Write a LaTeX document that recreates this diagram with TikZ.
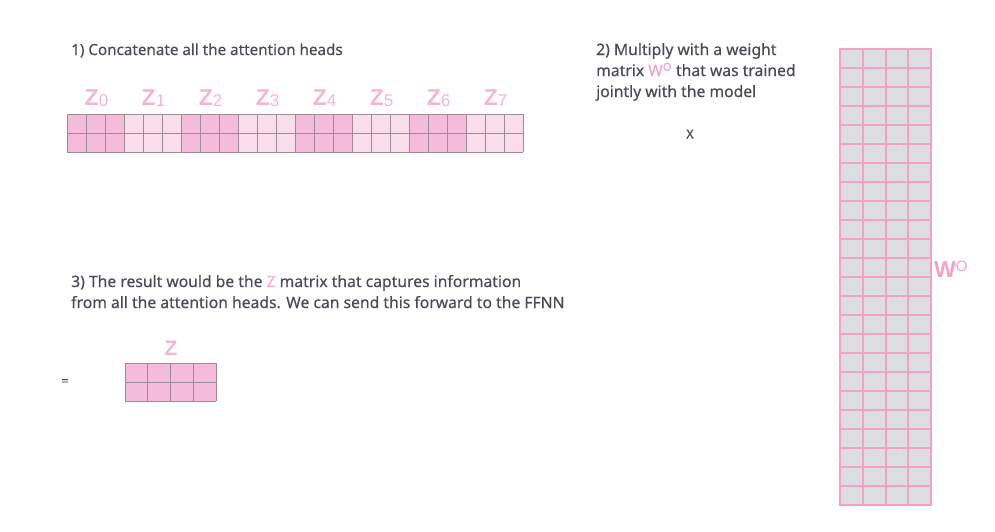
\documentclass[tikz,border=0pt]{standalone}
\usepackage{fontspec}
\setmainfont{Noto Sans}[FakeBold=0.5]
\newfontfamily\labelfont{Liberation Sans}
\definecolor{txtgray}{HTML}{4B4C57}
\definecolor{headdark}{HTML}{F4BBDA}
\definecolor{headlight}{HTML}{F9DDEB}
\definecolor{cellline}{HTML}{9C8C97}
\definecolor{labelpink}{HTML}{F5B5D5}
\definecolor{wpink}{HTML}{F3A2C7}
\definecolor{wfill}{HTML}{DCDDDF}
\newcommand{\headsub}[1]{{\fontsize{17}{17}\selectfont\mdseries\raisebox{-1pt}{#1}}}
\tikzset{
  steptext/.style={anchor=base west, inner sep=0pt, text=txtgray, font=\fontsize{15.7}{21}\selectfont, align=left},
  zlabel/.style={anchor=base, inner sep=0pt, text=labelpink, font=\labelfont\fontsize{23}{23}\selectfont\bfseries},
  cellgrid/.style={draw=cellline, line width=0.8pt},
  wgrid/.style={draw=wpink, line width=2pt}
}
\begin{document}
\begin{tikzpicture}[x=1pt, y=-1pt]
    \useasboundingbox (0,0) rectangle (995,531);

    % step 1 text
    \node[steptext, font=\fontsize{15.2}{21}\selectfont] (step1) at (71,55) {1) Concatenate all the attention heads};

    % the concatenated heads, 3 columns per head
    \foreach \h in {0,...,7} {
        \ifodd\h\relax \def\hcol{headlight}\else \def\hcol{headdark}\fi
        \fill[\hcol] (67+57*\h,114) rectangle ++(57,38);
        \node[zlabel] (z\h) at (96.5+57*\h,105) {Z\headsub{\h}};
    }
    % the lines of the concatenated heads
    \foreach \i in {0,...,24}
        \draw[cellgrid] (67+19*\i,114) -- +(0,38);
    \foreach \j in {0,1,2}
        \draw[cellgrid] (67,114+19*\j) -- +(456,0);

    % step 2 text (anchored at the baseline of its last line)
    \node[steptext] (step2) at (596,97) {2) Multiply with a weight\\
        matrix \textcolor{wpink}{W\textsuperscript{O}} that was trained\\
        jointly with the model};
    \node[anchor=base, inner sep=0pt, text=txtgray, font=\fontsize{12.5}{12}\selectfont] (times) at (690,138.5) {X};

    % the weight matrix W^O
    \fill[wfill] (840,49) rectangle (931,505);
    \foreach \i in {0,...,4}
        \draw[wgrid] (840+22.75*\i,49) -- +(0,456);
    \foreach \j in {0,...,24}
        \draw[wgrid] (839,49+19*\j) -- +(93,0);
    \node[zlabel, anchor=base west, text=wpink] (wlabel) at (934,277)
        {W\raisebox{6pt}{\fontsize{15}{15}\selectfont\mdseries O}};

    % step 3 text (anchored at the baseline of its last line)
    \node[steptext] (step3) at (71,308) {3) The result would be the \textcolor{labelpink}{Z} matrix that captures information\\
        from all the attention heads. We can send this forward to the FFNN};

    % the result Z
    \node[anchor=base, inner sep=0pt, text=txtgray, font=\fontsize{12}{12}\selectfont] (equals) at (65,385) {=};
    \fill[headdark] (125,363) rectangle (216,401);
    \foreach \i in {0,...,4}
        \draw[cellgrid] (125+22.75*\i,363) -- +(0,38);
    \foreach \j in {0,1,2}
        \draw[cellgrid] (125,363+19*\j) -- +(91,0);
    \node[zlabel, font=\labelfont\fontsize{21}{21}\selectfont\bfseries] (zres) at (171,355) {Z};
\end{tikzpicture}
\end{document}
